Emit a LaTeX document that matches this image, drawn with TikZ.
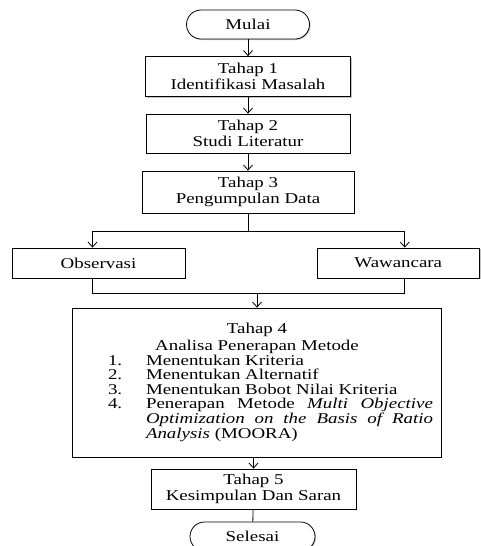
\documentclass[tikz,border=0pt]{standalone}
\usepackage{fontspec}
\setmainfont{Liberation Serif}[FakeStretch=1.26]
\usepackage{enumitem}
\usetikzlibrary{arrows.meta, shadows, shapes, positioning}

\begin{document}
\begin{tikzpicture}[
            >={Straight Barb[length=5pt,width=9pt]},
                base/.style = {rectangle, draw=black, line width=0.8pt, fill=white,
                            text centered, font=\fontsize{15}{16.7}\selectfont,
                            drop shadow={shadow xshift=1pt, shadow yshift=-1pt, fill=black!45}},
                terminal/.style = {base, rounded corners=14.5pt, minimum width=123pt, minimum height=29pt},
                stepbox/.style = {base, minimum width=205pt, minimum height=40pt, align=center},
                sourcebox/.style = {base, minimum height=30pt},
                analysisbox/.style = {base, text width=362pt, minimum height=149pt,
                            align=justify, font=\fontsize{15}{14.6}\selectfont},
            node distance=57pt,
            line width=0.8pt]
            \useasboundingbox (0,0) rectangle (481pt,-546pt);
            \node (Mulai) [terminal] at (248pt,-24.5pt) {Mulai};
            \node (Tahap1) [stepbox, below of=Mulai, yshift=5pt] {
                Tahap 1\\ Identifikasi Masalah
            };
            \node (Tahap2) [stepbox, below of=Tahap1, minimum height=39pt, minimum width=204pt] {
                Tahap 2\\ Studi Literatur
            };
            \node (Tahap3) [stepbox, below of=Tahap2, minimum width=212pt, minimum height=42pt, yshift=-1.5pt] {
                Tahap 3\\ Pengumpulan Data
            };
            \node (Observasi) [sourcebox, below of=Tahap3, minimum width=173pt, xshift=-149.5pt, yshift=-14pt] {
                Observasi
            };
            \node (Wawancara) [sourcebox, below of=Tahap3, minimum width=162.5pt, xshift=150.25pt, yshift=-14pt] {
                Wawancara
            };
            \node (Tahap4) [analysisbox, below of=Tahap3, xshift=9pt, yshift=-133.5pt] {
                {\centering Tahap 4\\[2pt] Analisa Penerapan Metode\par}
                \hyphenpenalty=10000
                \begin{enumerate}[nosep, leftmargin=70pt, labelwidth=26pt, labelsep=12pt, align=left, rightmargin=5pt]
                    \item Menentukan Kriteria
                    \item Menentukan Alternatif
                    \item Menentukan Bobot Nilai Kriteria
                    \item Penerapan Metode \textit{Multi Objective}\linebreak
                          \textit{Optimization on the Basis of Ratio}\linebreak
                          \textit{Analysis} (MOORA)
                \end{enumerate}
            };
            \node (Tahap5) [stepbox, below of=Tahap4, xshift=-3.5pt, yshift=-49.5pt] {
                Tahap 5\\ Kesimpulan Dan Saran
            };
            \node (Selesai) [terminal, below of=Tahap5, minimum width=125pt, xshift=-1pt, yshift=9.5pt] {Selesai};
            % alur utama
            \draw[->] (Mulai) -- (Tahap1);
            \draw[->] (Tahap1) -- (Tahap2);
            \draw[->] (Tahap2) -- (Tahap3);
            \draw[->] (Tahap3.south) -- ++(0,-18pt) -| ([xshift=-6pt]Observasi.north);
            \draw[->] (Tahap3.south) -- ++(0,-18pt) -| ([xshift=6.5pt]Wawancara.north);
            \draw ([xshift=-6pt]Observasi.south) -- ++(0,-15pt) coordinate (join) -| ([xshift=6.5pt]Wawancara.south);
            \draw[->] (join -| Tahap4.north) -- (Tahap4.north);
            \draw[->] (Tahap5.north |- Tahap4.south) -- (Tahap5.north);
            \draw (Tahap5) -- (Selesai);
        \end{tikzpicture}
\end{document}
